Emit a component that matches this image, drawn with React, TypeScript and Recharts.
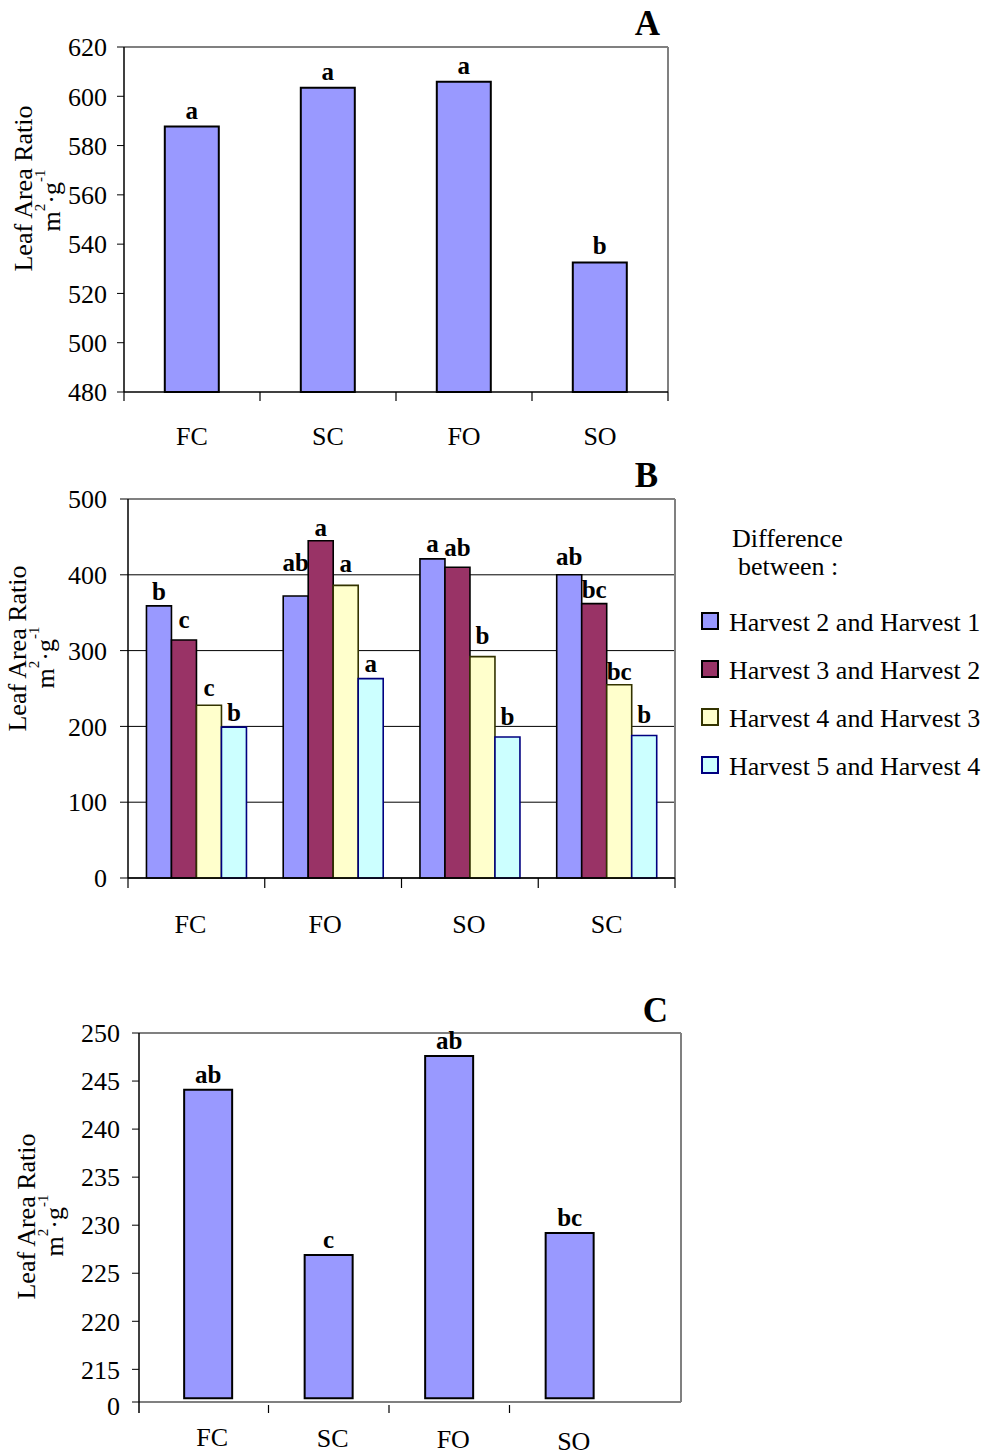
import React from 'react';
import { BarChart, Bar, XAxis, YAxis, CartesianGrid, LabelList, Legend } from 'recharts';

const SERIF = '"Liberation Serif", "Times New Roman", Times, serif';
const BLACK = '#000000';
const FRAME = '#808080';

// ---- Panel A: leaf area ratio per treatment ----
const catsA = ['FC', 'SC', 'FO', 'SO'];
const larA = [587.7, 603.5, 605.9, 532.6];
const lettersA = ['a', 'a', 'a', 'b'];
const ticksA = [480, 500, 520, 540, 560, 580, 600, 620];

// ---- Panel B: differences between successive harvests ----
const catsB = ['FC', 'FO', 'SO', 'SC'];
const h2h1 = [359, 372, 421, 400];
const h3h2 = [314, 445, 410, 362];
const h4h3 = [228, 386, 292, 255];
const h5h4 = [199, 263, 186, 188];
const lettersH2H1 = ['b', 'ab', 'a', 'ab'];
const lettersH3H2 = ['c', 'a', 'ab', 'bc'];
const lettersH4H3 = ['c', 'a', 'b', 'bc'];
const lettersH5H4 = ['b', 'a', 'b', 'b'];
const ticksB = [0, 100, 200, 300, 400, 500];
const seriesNamesB = [
  'Harvest 2 and Harvest 1',
  'Harvest 3 and Harvest 2',
  'Harvest 4 and Harvest 3',
  'Harvest 5 and Harvest 4',
];

// ---- Panel C: leaf area ratio, broken value axis ----
const catsC = ['FC', 'SC', 'FO', 'SO'];
const larC = [244.1, 226.9, 247.6, 229.2];
const lettersC = ['ab', 'c', 'ab', 'bc'];
const axisBreakC = 211.6; // bottom of the broken axis, labelled "0"
const barFloorC = 212;
const ticksC = [axisBreakC, 215, 220, 225, 230, 235, 240, 245, 250];

const dataA = catsA.map((cat, i) => ({ cat, lar: larA[i], tag: lettersA[i] }));

const dataB = catsB.map((cat, i) => ({
  cat,
  d21: h2h1[i],
  d32: h3h2[i],
  d43: h4h3[i],
  d54: h5h4[i],
  t21: lettersH2H1[i],
  t32: lettersH3H2[i],
  t43: lettersH4H3[i],
  t54: lettersH5H4[i],
}));

// extra lift (px) of each significance letter above its bar in panel B
const letterLiftB: Record<string, number[]> = {
  d21: [1, 20, 2, 5],
  d32: [7, 0, 6, 1],
  d43: [4, 8, 8, 0],
  d54: [1, 2, 7, 7],
};

const seriesB = [
  { key: 'd21', tag: 't21', fill: '#9999FF', stroke: '#000000' },
  { key: 'd32', tag: 't32', fill: '#993366', stroke: '#000000' },
  { key: 'd43', tag: 't43', fill: '#FFFFCC', stroke: '#333300' },
  { key: 'd54', tag: 't54', fill: '#CCFFFF', stroke: '#000080' },
].map((s, i) => ({ ...s, name: seriesNamesB[i] }));

const dataC = catsC.map((cat, i) => ({ cat, span: [barFloorC, larC[i]], tag: lettersC[i] }));

// Rotated two-line value-axis title
function AxisTitle(props: any) {
  const { viewBox, x1, x2, s1, s2 } = props;
  const cy = viewBox.y + viewBox.height / 2;
  return (
    <g fontFamily={SERIF} fill={BLACK}>
      <text transform={`translate(${x1},${cy + s1}) rotate(-90)`} textAnchor="middle" fontSize={26}>
        Leaf Area Ratio
      </text>
      <text transform={`translate(${x2},${cy + s2}) rotate(-90)`} textAnchor="middle" fontSize={26}>
        m
        <tspan dy={-15} fontSize={15}>2</tspan>
        <tspan dy={15}>·g</tspan>
        <tspan dy={-15} fontSize={15}>-1</tspan>
      </text>
    </g>
  );
}

// Panel letter drawn at the top-right corner above the plot frame
function PanelTag(props: any) {
  const { viewBox, text, dx, dy } = props;
  if (!viewBox) return null;
  return (
    <text
      x={viewBox.x + viewBox.width + dx}
      y={viewBox.y + viewBox.height + dy}
      textAnchor="end"
      fontFamily={SERIF}
      fontWeight="bold"
      fontSize={35}
      fill={BLACK}
    >
      {text}
    </text>
  );
}

// Value-axis tick label in the serif face
function ValueTick(props: any) {
  const { x, y, payload, breakValue, breakDrop = 0 } = props;
  const isBreak = breakValue !== undefined && payload.value === breakValue;
  return (
    <text
      x={x}
      y={y + (isBreak ? breakDrop : 0)}
      dy="0.355em"
      textAnchor="end"
      fontSize={26}
      fontFamily={SERIF}
      fill={BLACK}
    >
      {isBreak ? '0' : payload.value}
    </text>
  );
}

// Category label with tick marks on the band boundaries
function CategoryTick(props: any) {
  const {
    x, y, payload, index, visibleTicksCount, width,
    baselineDrop, tickLen, tickGap = 0, skipFirst = false, closeRight = true,
    shifts = [], dx = 0, drift = 0, leftExtension,
  } = props;
  const half =
    payload && typeof payload.offset === 'number' && payload.offset > 0
      ? payload.offset
      : width / visibleTicksCount / 2;
  const left = x - half;
  const right = x + half;
  const marks: any[] = [];
  if (!(skipFirst && index === 0)) {
    marks.push(<line key="l" x1={left} x2={left} y1={y + tickGap} y2={y + tickGap + tickLen} stroke={BLACK} strokeWidth={1.2} />);
  }
  if (closeRight && index === visibleTicksCount - 1) {
    marks.push(<line key="r" x1={right} x2={right} y1={y + tickGap} y2={y + tickGap + tickLen} stroke={BLACK} strokeWidth={1.2} />);
  }
  if (leftExtension && index === 0) {
    const ex = left - leftExtension.pad;
    marks.push(<line key="e" x1={ex} x2={ex} y1={y} y2={y + leftExtension.len} stroke={BLACK} strokeWidth={1.5} />);
  }
  return (
    <g>
      {marks}
      <text
        x={x + dx + (shifts[index] ?? 0)}
        y={y + baselineDrop + drift * index}
        textAnchor="middle"
        fontSize={26}
        fontFamily={SERIF}
        fill={BLACK}
      >
        {payload.value}
      </text>
    </g>
  );
}

function makeLetter(gap: number, lifts: number[] = []) {
  return (p: any) => {
    const { x, y, width, value, index } = p;
    if (value == null) return null;
    const lift = typeof index === 'number' ? lifts[index] ?? 0 : 0;
    return (
      <text
        x={Number(x) + Number(width) / 2}
        y={Number(y) - gap - lift}
        textAnchor="middle"
        fontFamily={SERIF}
        fontWeight="bold"
        fontSize={25}
        fill={BLACK}
      >
        {value}
      </text>
    );
  };
}

function HarvestLegend() {
  return (
    <svg width={300} height={270} style={{ display: 'block' }}>
      <g fontFamily={SERIF} fontSize={26} fill={BLACK}>
        <text x={42} y={27}>Difference</text>
        <text x={48} y={55}>between :</text>
        {seriesB.map((s, i) => (
          <g key={s.key}>
            <rect x={12} y={93 + i * 48} width={16} height={16} fill={s.fill} stroke={s.stroke} strokeWidth={2} />
            <text x={39} y={111 + i * 48}>{s.name}</text>
          </g>
        ))}
      </g>
    </svg>
  );
}

// Grey top and right edges of the plot frame
function frameAxes(letter: string, dx: number, dy: number, domain: [number, number]) {
  return [
    <XAxis
      key="frame-top"
      xAxisId="frame"
      dataKey="cat"
      orientation="top"
      height={1}
      tick={false}
      tickLine={false}
      axisLine={{ stroke: FRAME, strokeWidth: 2 }}
      label={<PanelTag text={letter} dx={dx} dy={dy} />}
    />,
    <YAxis
      key="frame-right"
      yAxisId="frame"
      orientation="right"
      type="number"
      domain={domain}
      width={1}
      tick={false}
      tickLine={false}
      axisLine={{ stroke: FRAME, strokeWidth: 2 }}
    />,
  ];
}

function PanelA() {
  return (
    <BarChart
      width={700}
      height={460}
      data={dataA}
      margin={{ top: 46, right: 31, bottom: 0, left: 0 }}
      barCategoryGap="30%"
      style={{ fontFamily: SERIF }}
    >
      {frameAxes('A', -8, -12, [480, 620])}
      <Bar dataKey="lar" fill="#9999FF" stroke={BLACK} strokeWidth={2} isAnimationActive={false}>
        <LabelList dataKey="tag" content={makeLetter(8)} />
      </Bar>
      <XAxis
        dataKey="cat"
        height={68}
        interval={0}
        tickSize={0}
        tickMargin={0}
        tickLine={false}
        axisLine={{ stroke: BLACK, strokeWidth: 1.5 }}
        tick={(p: any) => <CategoryTick {...p} baselineDrop={53} tickLen={9} />}
      />
      <YAxis
        type="number"
        domain={[480, 620]}
        ticks={ticksA}
        interval={0}
        width={124}
        tickSize={7}
        tickMargin={10}
        tick={(p: any) => <ValueTick {...p} />}
        tickLine={{ stroke: BLACK }}
        axisLine={{ stroke: BLACK, strokeWidth: 1.5 }}
        label={<AxisTitle x1={32} x2={60} s1={-31} s2={-19} />}
      />
    </BarChart>
  );
}

function PanelB() {
  return (
    <BarChart
      width={990}
      height={510}
      data={dataB}
      margin={{ top: 48, right: 314, bottom: 0, left: 0 }}
      barCategoryGap="13.5%"
      barGap={0}
      style={{ fontFamily: SERIF }}
    >
      <CartesianGrid vertical={false} stroke={BLACK} strokeWidth={1} />
      {frameAxes('B', -17, -12, [0, 500])}
      {seriesB.map((s) => (
        <Bar
          key={s.key}
          dataKey={s.key}
          name={s.name}
          fill={s.fill}
          stroke={s.stroke}
          strokeWidth={1.6}
          isAnimationActive={false}
        >
          <LabelList dataKey={s.tag} content={makeLetter(5, letterLiftB[s.key])} />
        </Bar>
      ))}
      <XAxis
        dataKey="cat"
        height={82}
        interval={0}
        tickSize={0}
        tickMargin={0}
        tickLine={false}
        axisLine={{ stroke: BLACK, strokeWidth: 1.5 }}
        tick={(p: any) => <CategoryTick {...p} baselineDrop={55} tickLen={10} shifts={[-6, -8, -1, 0]} />}
      />
      <YAxis
        type="number"
        domain={[0, 500]}
        ticks={ticksB}
        interval={0}
        width={128}
        tickSize={8}
        tickMargin={13}
        tick={(p: any) => <ValueTick {...p} />}
        tickLine={{ stroke: BLACK }}
        axisLine={{ stroke: BLACK, strokeWidth: 1.5 }}
        label={<AxisTitle x1={26} x2={54} s1={-40} s2={-31} />}
      />
      <Legend
        layout="vertical"
        align="center"
        verticalAlign="middle"
        content={() => <HarvestLegend />}
        wrapperStyle={{ left: 690, top: 70, width: 300, height: 270 }}
      />
    </BarChart>
  );
}

function PanelC() {
  return (
    <BarChart
      width={700}
      height={496}
      data={dataC}
      margin={{ top: 72, right: 18, bottom: 0, left: 0 }}
      barCategoryGap="30%"
      style={{ fontFamily: SERIF }}
    >
      {frameAxes('C', -13, -11, [axisBreakC, 250])}
      <Bar dataKey="span" fill="#9999FF" stroke={BLACK} strokeWidth={2} isAnimationActive={false}>
        <LabelList dataKey="tag" content={makeLetter(7)} />
      </Bar>
      <XAxis
        dataKey="cat"
        height={54}
        interval={0}
        padding={{ left: 9, right: 51 }}
        tickSize={0}
        tickMargin={0}
        tickLine={false}
        axisLine={{ stroke: FRAME, strokeWidth: 2 }}
        tick={(p: any) => (
          <CategoryTick
            {...p}
            baselineDrop={44}
            tickLen={8}
            tickGap={3}
            skipFirst
            closeRight={false}
            dx={4}
            drift={1.2}
            leftExtension={{ pad: 9, len: 11 }}
          />
        )}
      />
      <YAxis
        type="number"
        domain={[axisBreakC, 250]}
        ticks={ticksC}
        interval={0}
        width={139}
        tickSize={7}
        tickMargin={12}
        tick={(p: any) => <ValueTick {...p} breakValue={axisBreakC} breakDrop={4} />}
        tickLine={{ stroke: BLACK }}
        axisLine={{ stroke: BLACK, strokeWidth: 1.5 }}
        label={<AxisTitle x1={35} x2={63} s1={-1} s2={8} />}
      />
    </BarChart>
  );
}

export default function App() {
  return (
    <div style={{ position: 'absolute', left: 0, top: 0, width: 990, height: 1456, background: '#ffffff' }}>
      <div style={{ position: 'absolute', left: 0, top: 0 }}>
        <PanelA />
      </div>
      <div style={{ position: 'absolute', left: 0, top: 450 }}>
        <PanelB />
      </div>
      <div style={{ position: 'absolute', left: 0, top: 960 }}>
        <PanelC />
      </div>
    </div>
  );
}
